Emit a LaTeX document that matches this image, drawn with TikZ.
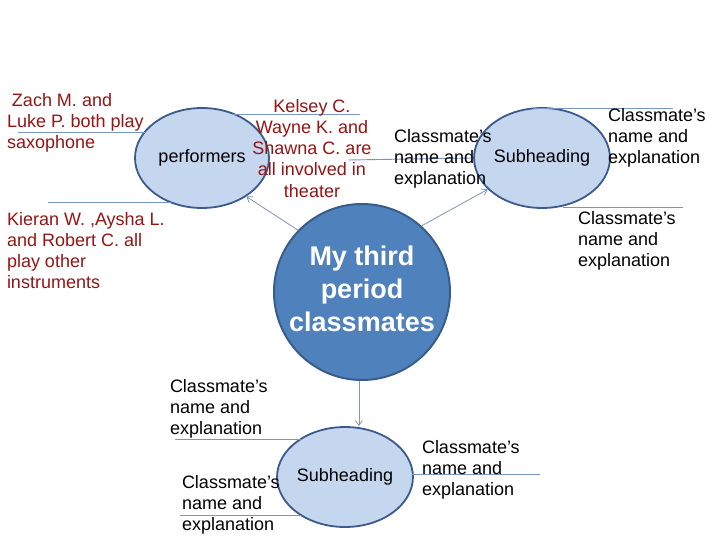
\documentclass[tikz,border=0pt]{standalone}
\usepackage{fontspec}
\setmainfont{Liberation Sans}
\usetikzlibrary{arrows.meta,shapes.geometric}
\definecolor{darkred}{RGB}{150,20,20}
\definecolor{lightfill}{RGB}{197,214,239}
\definecolor{ellborder}{RGB}{60,90,140}
\definecolor{mainfill}{RGB}{79,129,189}
\definecolor{mainborder}{RGB}{56,93,138}
\definecolor{linecol}{RGB}{120,150,195}
\definecolor{arrcol}{RGB}{130,150,175}
\tikzset{
  txt/.style={inner sep=0pt, outer sep=0pt, align=left, anchor=north west, font=\fontsize{18}{21.3}\selectfont},
  redtxt/.style={txt, text=darkred},
  subell/.style={ellipse, draw=ellborder, line width=1.8pt, fill=lightfill, minimum width=134pt, minimum height=100pt, inner sep=0pt, font=\fontsize{18}{21}\selectfont},
  mainc/.style={circle, draw=mainborder, line width=2pt, fill=mainfill, minimum size=176pt, inner sep=0pt, align=center, text=white, text depth=6pt, font=\fontsize{27}{33}\selectfont\bfseries},
  ln/.style={draw=linecol, line width=0.9pt},
  arr/.style={draw=arrcol, line width=0.8pt, -{Straight Barb[length=5pt,width=7pt]}}
}
\begin{document}
\begin{tikzpicture}[x=1pt,y=-1pt]
\useasboundingbox[fill=white] (0,0) rectangle (720,540);

% ellipses and main circle
\node[subell] (perf) at (202,158) {performers};
\node[subell] (sub1) at (542,158) {Subheading};
\node[subell] (sub2) at (345,477) {Subheading};
\node[mainc] (main) at (362,292) {My third\\period\\classmates};

% free ends of lines
\coordinate (p1a) at (18,132);   \coordinate (p1b) at (146,132);
\coordinate (p2a) at (233,114);  \coordinate (p2b) at (360,114);
\coordinate (p3a) at (48,202);   \coordinate (p3b) at (171,202);
\coordinate (s1a) at (348,160);
\coordinate (s2a) at (533,108);  \coordinate (s2b) at (673,108);
\coordinate (s3a) at (563,207);  \coordinate (s3b) at (683,207);
\coordinate (b1a) at (175,439);  \coordinate (b1b) at (301,439);
\coordinate (b2a) at (412,474);  \coordinate (b2b) at (540,474);
\coordinate (b3a) at (180,515);  \coordinate (b3b) at (301,515);

\draw[ln] (p1a) -- (p1b);
\draw[ln] (p2a) -- (p2b);
\draw[ln] (p3a) -- (p3b);
\draw[ln] (s1a) -- (sub1.west);
\draw[ln] (s2a) -- (s2b);
\draw[ln] (s3a) -- (s3b);
\draw[ln] (b1a) -- (b1b);
\draw[ln] (b2a) -- (b2b);
\draw[ln] (b3a) -- (b3b);

% arrows
\draw[arr] (main.136) -- (perf.-41);
\draw[arr] (main.48) -- (sub1.210);
\draw[arr] (main.268) -- (main.268 |- sub2.north);

% texts
\node[redtxt] (zach) at (7,93) {\hspace*{5pt}Zach M. and\\Luke P. both play\\saxophone};
\node[redtxt, align=center, anchor=north] (kelsey) at (312,99) {Kelsey C.\\Wayne K. and\\Shawna C. are\\all involved in\\theater};
\node[redtxt] (kieran) at (7,212) {Kieran W. ,Aysha L.\\and Robert C. all\\play other\\instruments};
\node[txt] (cm1) at (394,129) {Classmate’s\\name and\\explanation};
\node[txt] (cm2) at (608,108) {Classmate’s\\name and\\explanation};
\node[txt] (cm3) at (578,211) {Classmate’s\\name and\\explanation};
\node[txt] (cm4) at (170,379) {Classmate’s\\name and\\explanation};
\node[txt] (cm5) at (422,440) {Classmate’s\\name and\\explanation};
\node[txt] (cm6) at (182,475) {Classmate’s\\name and\\explanation};
\end{tikzpicture}
\end{document}
